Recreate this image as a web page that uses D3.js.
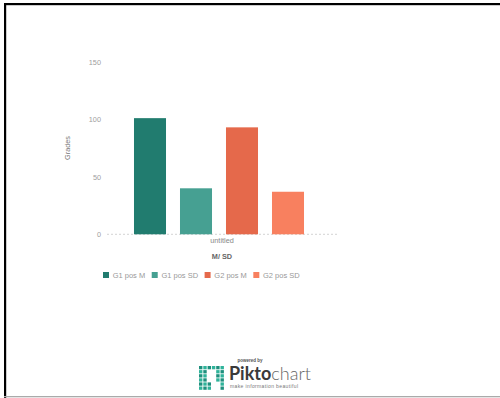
<!DOCTYPE html>
<html>
<head>
<meta charset="utf-8">
<script src="https://cdn.jsdelivr.net/npm/d3@7"></script>
<style>
  body { margin: 0; background: #fff; }
  text { font-family: "Liberation Sans", Arial, sans-serif; }
</style>
</head>
<body>
<div id="chart"></div>
<script>
const categories = ["untitled"];
const series = ["G1 pos M", "G1 pos SD", "G2 pos M", "G2 pos SD"];
const values = [101, 40, 93, 37];
const colors = ["#217c6f", "#46a092", "#e5694b", "#f8805f"];
const yTicks = [0, 50, 100, 150];

const W = 500, H = 398;
const FONT = "'Liberation Sans', Arial, sans-serif";
const svg = d3.select("#chart").append("svg")
    .attr("width", W).attr("height", H);

// frame
svg.append("rect").attr("x", 4).attr("y", 3).attr("width", W - 4).attr("height", 2.2).attr("fill", "#000");
svg.append("rect").attr("x", 4).attr("y", 3).attr("width", 2.2).attr("height", H - 3).attr("fill", "#000");
svg.append("rect").attr("x", 4).attr("y", 396).attr("width", W - 4).attr("height", 1.3).attr("fill", "#aaa");

const y = d3.scaleLinear().domain([0, 150]).range([234.3, 61.8]);
const x0 = d3.scaleBand().domain(categories).range([107, 337]);
const x1 = d3.scaleBand().domain(series).range([20, 204])
    .paddingInner(0.304).paddingOuter(0.152);
const color = d3.scaleOrdinal().domain(series).range(colors);

// y axis (labels only)
const yAxis = svg.append("g")
    .attr("transform", "translate(101,0)")
    .call(d3.axisLeft(y).tickValues(yTicks).tickSize(0).tickPadding(0));
yAxis.select(".domain").remove();
yAxis.selectAll("text")
    .style("font-family", FONT)
    .style("font-size", "7.3px")
    .attr("fill", "#a0a0a0");

// baseline
svg.append("line")
    .attr("x1", 107).attr("x2", 337)
    .attr("y1", y(0)).attr("y2", y(0))
    .attr("stroke", "#c8c8c8").attr("stroke-width", 0.8)
    .attr("stroke-dasharray", "2,2");

svg.append("text")
    .attr("transform", "translate(69.5,148) rotate(-90)")
    .attr("text-anchor", "middle")
    .style("font-size", "7.3px").attr("fill", "#777")
    .text("Grades");

// bars
const grp = svg.selectAll(".cat").data(categories).enter().append("g")
    .attr("transform", d => `translate(${x0(d)},0)`);
grp.selectAll("rect")
    .data(series.map((s, i) => ({ s, v: values[i] })))
    .enter().append("rect")
    .attr("x", d => x1(d.s))
    .attr("width", x1.bandwidth())
    .attr("y", d => y(d.v))
    .attr("height", d => y(0) - y(d.v))
    .attr("fill", d => color(d.s));

// x axis label
svg.append("g")
    .attr("transform", `translate(0,${y(0)})`)
    .call(d3.axisBottom(x0).tickSize(0).tickPadding(4))
    .call(g => g.select(".domain").remove())
    .selectAll("text")
    .style("font-family", FONT)
    .style("font-size", "7.3px").attr("fill", "#888");

svg.append("text")
    .attr("x", 222).attr("y", 259)
    .attr("text-anchor", "middle")
    .style("font-size", "7.3px").style("font-weight", "bold").attr("fill", "#666")
    .text("M/ SD");

// legend
let lx = 103;
series.forEach(s => {
    svg.append("rect").attr("x", lx).attr("y", 272).attr("width", 6).attr("height", 6)
        .attr("fill", color(s));
    const t = svg.append("text").attr("x", lx + 9.7).attr("y", 278)
        .style("font-size", "7.5px").attr("fill", "#999").text(s);
    lx = lx + 9.7 + t.node().getComputedTextLength() + 6.5;
});

// piktochart footer
svg.append("text").attr("x", 250).attr("y", 362).attr("text-anchor", "middle")
    .style("font-size", "4.5px").style("font-weight", "bold").attr("fill", "#555")
    .text("powered by");

const icon = svg.append("g").attr("transform", "translate(199,366)");
const cells = [];
for (let r = 0; r < 6; r++) {
    for (let c = 0; c < 6; c++) {
        const hole = (r >= 1 && r <= 3 && c >= 2 && c <= 3) || (r >= 4 && c >= 3 && c <= 4);
        if (!hole) cells.push({ r, c });
    }
}
icon.selectAll("rect").data(cells).enter().append("rect")
    .attr("x", d => d.c * 4.3).attr("y", d => d.r * 4.1)
    .attr("width", 3.4).attr("height", 3.3)
    .attr("fill", d => (d.r + d.c) % 2 ? "#2fb39a" : "#1e8f7d");

const brand = svg.append("text").attr("x", 229).attr("y", 380)
    .style("font-family", "Lato, 'Open Sans', sans-serif")
    .style("font-size", "18px");
brand.append("tspan").style("font-weight", "bold").attr("fill", "#3a3a3a").text("Pikto");
brand.append("tspan").style("font-weight", "300").attr("fill", "#666").text("chart");

svg.append("text").attr("x", 230).attr("y", 387.5)
    .style("font-size", "5px").attr("fill", "#777")
    .attr("textLength", 68)
    .text("make information beautiful");
</script>
</body>
</html>
